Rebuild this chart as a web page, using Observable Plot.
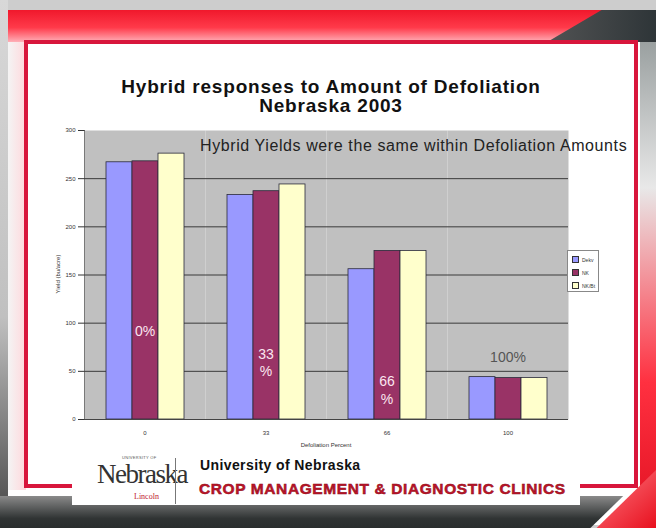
<!DOCTYPE html>
<html>
<head>
<meta charset="utf-8">
<script src="https://cdn.jsdelivr.net/npm/d3@7"></script>
<script src="https://cdn.jsdelivr.net/npm/@observablehq/plot@0.6"></script>
<style>
  html, body { margin: 0; padding: 0; }
  body { width: 656px; height: 528px; position: relative; overflow: hidden; background: #cdcdcd; font-family: Arial, "Liberation Sans", sans-serif; }
  .abs { position: absolute; }
</style>
</head>
<body>
<div class="abs" style="left:8px;top:10px;width:640px;height:515px;background:#ffffff;"></div>
<div class="abs" style="left:0;top:0;width:8px;height:528px;background:linear-gradient(to bottom,#d8d8d8,#c0c0c0 60%,#444 100%);"></div>
<div class="abs" style="left:8px;top:40px;width:18px;height:450px;background:linear-gradient(to right,#f4f4f4,#ffd8dc);"></div>
<div class="abs" style="left:8px;top:10px;width:648px;height:32px;background:linear-gradient(to bottom,#f0182c,#ff3a4a 55%,#ffb0b8 100%);"></div>
<div class="abs" style="left:520px;top:10px;width:136px;height:32px;background:linear-gradient(to right,#5a5a5a,#2e3538);clip-path:polygon(100% 0,100% 100%,20% 100%,60% 0);"></div>
<div class="abs" style="left:640px;top:42px;width:16px;height:486px;background:linear-gradient(to bottom,#9aa0a0,#e8e8e8 30%,#ff3040 70%,#e01020 100%);"></div>
<div class="abs" style="left:0;top:496px;width:656px;height:32px;background:linear-gradient(to bottom,#8a8a8a,#303434 70%,#2a2e2e);clip-path:polygon(0 0,95% 0,90% 100%,0 100%);"></div>
<div class="abs" style="left:590px;top:470px;width:66px;height:58px;background:linear-gradient(to bottom right,#ff8088,#e8101e);clip-path:polygon(100% 0,100% 100%,10% 100%);"></div>
<div class="abs" style="left:24px;top:40px;width:606px;height:440px;border:4px solid #d8163c;background:#ffffff;"></div>

<div class="abs" style="left:28px;top:77px;width:606px;text-align:center;font-weight:bold;font-size:19px;line-height:19px;letter-spacing:0.8px;color:#111;">Hybrid responses to Amount of Defoliation<br>Nebraska 2003</div>

<div id="chart" class="abs" style="left:0;top:120px;"></div>

<div class="abs" style="left:200px;top:137px;font-size:16px;letter-spacing:0.6px;color:#222;white-space:nowrap;">Hybrid Yields were the same within Defoliation Amounts</div>
<div class="abs" style="left:28px;top:271px;width:60px;text-align:center;font-size:6px;color:#333;transform:rotate(-90deg);">Yield (bu/acre)</div>
<div class="abs" style="left:276px;top:442px;width:100px;text-align:center;font-size:6px;color:#333;">Defoliation Percent</div>
<div id="legend" class="abs" style="left:567px;top:250px;width:32px;height:42px;background:#fff;border:1px solid #888;box-sizing:border-box;font-size:5px;color:#333;"></div>

<div class="abs" style="left:72px;top:453px;width:508px;height:52px;background:#ffffff;"></div>
<div class="abs" style="left:122px;top:455px;font-size:4px;line-height:5px;color:#555;letter-spacing:0.3px;">UNIVERSITY OF</div>
<div class="abs" style="left:97px;top:462px;font-family:'Liberation Serif','DejaVu Serif',serif;font-size:27px;line-height:24px;letter-spacing:-1.5px;color:#333;">Nebraska</div>
<div class="abs" style="left:134px;top:492px;font-family:'Liberation Serif',serif;font-size:8px;color:#c02030;">Lincoln</div>
<div class="abs" style="left:175px;top:458px;width:1px;height:46px;background:#777;"></div>
<div class="abs" style="left:200px;top:457px;font-size:14px;font-weight:bold;letter-spacing:0.4px;color:#111;white-space:nowrap;">University of Nebraska</div>
<div class="abs" style="left:199px;top:480px;font-size:15.5px;font-weight:900;color:#c0142a;white-space:nowrap;letter-spacing:0.6px;-webkit-text-stroke:0.5px #8a0a18;">CROP MANAGEMENT &amp; DIAGNOSTIC CLINICS</div>

<script>
const categories = ["0", "33", "66", "100"];
const hybrids = ["Dekv", "NK", "NK/Bt"];
const hybridColors = ["#9999ff", "#993366", "#ffffcc"];
const dekvYield = [267, 233, 156, 44];
const nkYield = [268, 237, 175, 43];
const nkbtYield = [276, 244, 175, 43];
const pctLabels = ["0%", "33\n%", "66\n%", "100%"];
const pctLabelY = [93, 60, 31, 66];
const pctLabelColors = ["#fbe6f0", "#fbe6f0", "#fbe6f0", "#555555"];
const yTicks = [0, 50, 100, 150, 200, 250, 300];

const series = [dekvYield, nkYield, nkbtYield];
const table = [];
categories.forEach((c, i) => hybrids.forEach((h, j) => table.push({cat: c, hybrid: h, value: series[j][i]})));
const pct = categories.map((c, i) => ({cat: c, text: pctLabels[i], y: pctLabelY[i], color: pctLabelColors[i]}));

const chart = Plot.plot({
  width: 656,
  height: 340,
  marginLeft: 83,
  marginRight: 88,
  marginTop: 10,
  marginBottom: 41,
  style: {background: "transparent", fontFamily: "Arial, 'Liberation Sans', sans-serif", fontSize: "6px", color: "#333", overflow: "visible"},
  fx: {domain: categories, padding: 0, axis: "bottom", label: null, tickSize: 0, tickPadding: 11},
  x: {domain: hybrids, axis: null, paddingInner: 0, paddingOuter: 0.79},
  y: {domain: [0, 300], ticks: yTicks, label: null, tickSize: 6, tickPadding: 3, line: true},
  color: {domain: hybrids, range: hybridColors},
  marks: [
    Plot.frame({fill: "#c0c0c0", stroke: null}),
    Plot.ruleY(yTicks.slice(1, -1), {stroke: "#3a3a3a", strokeWidth: 1}),
    Plot.barY(table, {fx: "cat", x: "hybrid", y: "value", fill: "hybrid", stroke: "#2a2a3a", strokeWidth: 0.8}),
    Plot.text(pct, {fx: "cat", y: "y", text: "text", fill: "color", fontSize: 14, lineHeight: 1.25}),
    Plot.ruleY([0], {stroke: "#444", strokeWidth: 1})
  ]
});
document.getElementById("chart").appendChild(chart);

const legend = document.getElementById("legend");
hybrids.forEach((h, i) => {
  const row = document.createElement("div");
  row.style.cssText = `position:absolute;left:4px;top:${5 + i * 13}px;display:flex;align-items:center;white-space:nowrap;`;
  row.innerHTML = `<span style="display:inline-block;width:5px;height:5px;background:${hybridColors[i]};border:0.5px solid #333;margin-right:3px;"></span>${h}`;
  legend.appendChild(row);
});
</script>
</body>
</html>
